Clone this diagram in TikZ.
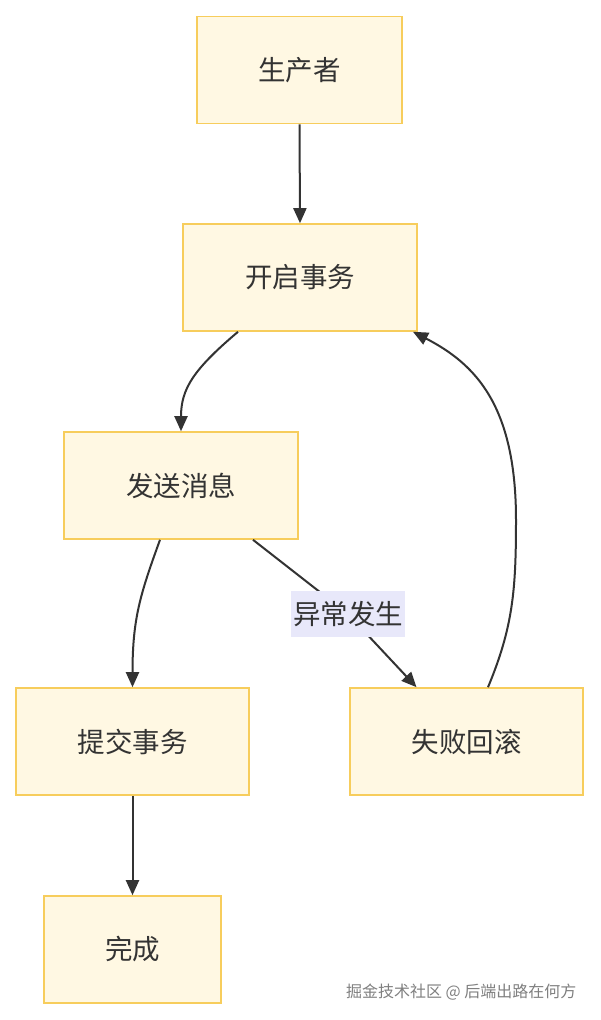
\documentclass[tikz,border=0pt]{standalone}
\usepackage{fontspec}
\setmainfont{Noto Sans CJK SC}
\usetikzlibrary{arrows.meta,calc}
\definecolor{boxfill}{HTML}{FFF8E3}
\definecolor{boxline}{HTML}{F7CD5C}
\definecolor{lblfill}{HTML}{E8E8FA}
\definecolor{txt}{HTML}{333333}
\definecolor{edge}{HTML}{333333}
\tikzset{
  box/.style={draw=boxline, fill=boxfill, line width=1.6pt, text=txt, inner sep=0pt,
    font=\fontsize{27.5}{30}\selectfont, minimum height=107pt},
  arr/.style={draw=edge, line width=2pt, -{Triangle[length=15pt,width=13pt]}},
  lbl/.style={fill=lblfill, text=txt, inner sep=0pt, font=\fontsize{27.5}{30}\selectfont,
    minimum width=114pt, minimum height=46pt},
}
\begin{document}
\begin{tikzpicture}[x=1pt,y=1pt]
\useasboundingbox[fill=white] (0,0) rectangle (600,-1020);
\node[box, minimum width=205pt] (sc) at (299.5,-70) {生产者};
\node[box, minimum width=234pt] (kq) at (300,-277.5) {开启事务};
\node[box, minimum width=234pt] (fs) at (181,-485.5) {发送消息};
\node[box, minimum width=233pt] (tj) at (132.5,-741.5) {提交事务};
\node[box, minimum width=233pt] (sb) at (466.5,-741.5) {失败回滚};
\node[box, minimum width=177pt] (wc) at (132.5,-949.5) {完成};
\coordinate (lc) at (348,-614);

\draw[arr] (sc.south) -- (kq.north);
\draw[arr] ([xshift=-62pt]kq.south) .. controls +(-45,-38) and +(0,42) .. (fs.north);
\draw[arr] ([xshift=-21pt]fs.south) .. controls +(-20,-55) and +(0,68) .. (tj.north);
\draw[arr] ([xshift=72pt]fs.south) -- (lc) -- ([xshift=-50pt]sb.north);
\draw[arr] ([xshift=21.5pt]sb.north) .. controls +(25,60) and +(0,-70) .. (516,-520)
  .. controls +(0,115) and +(62,-32) .. ([xshift=113pt]kq.south);
\draw[arr] (tj.south) -- (wc.north);

\node[lbl] (lb) at (lc) {异常发生};
\node[text=black!50, font=\fontsize{16}{18}\selectfont, anchor=east] (wm) at (580,-992) {掘金技术社区 @ 后端出路在何方};
\end{tikzpicture}
\end{document}
